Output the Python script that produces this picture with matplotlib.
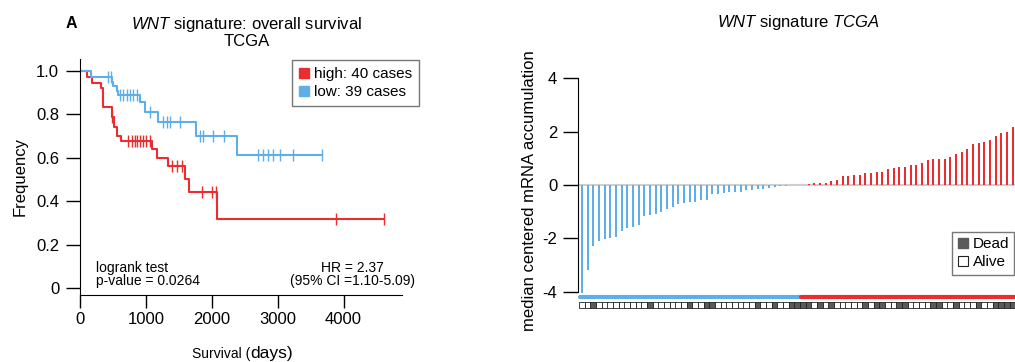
import numpy as np
import matplotlib
matplotlib.use('Agg')
import matplotlib.pyplot as plt
from matplotlib.lines import Line2D

plt.rcParams['font.family'] = 'Liberation Sans'
plt.rcParams['mathtext.fontset'] = 'custom'
plt.rcParams['mathtext.rm'] = 'Liberation Sans'
plt.rcParams['mathtext.it'] = 'Liberation Sans:italic'
plt.rcParams['axes.unicode_minus'] = False

RED = '#ec2d2f'
BLUE = '#5eaeea'

# Kaplan-Meier steps (days, survival)
high_t = [0, 101, 177, 319, 354, 480, 516, 556, 622, 1088, 1163, 1330, 1593, 1659, 2084]
high_s = [1.0, 0.974, 0.946, 0.921, 0.836, 0.786, 0.74, 0.70, 0.679, 0.64, 0.60, 0.564, 0.50, 0.442, 0.32]
high_end = 4620
high_cens = [480, 733, 784, 835, 870, 911, 951, 1002, 1062, 1391, 1467, 1543, 1846, 1998, 2064, 3884, 4620]

low_t = [0, 162, 480, 506, 556, 582, 910, 986, 1179, 1755, 2377]
low_s = [1.0, 0.97, 0.95, 0.93, 0.908, 0.888, 0.855, 0.809, 0.766, 0.702, 0.615]
low_end = 3667
low_cens = [430, 465, 607, 657, 708, 759, 809, 860, 1062, 1264, 1315, 1365, 1517,
            1820, 1871, 2023, 2185, 2706, 2782, 2858, 2934, 3035, 3237, 3667]

# waterfall values (sorted), low group then high group
low_vals = [-4.03, -3.19, -2.28, -2.08, -2.03, -1.98, -1.95, -1.73, -1.60, -1.58,
            -1.50, -1.15, -1.13, -1.08, -1.00, -0.90, -0.83, -0.70, -0.68, -0.65,
            -0.63, -0.58, -0.58, -0.33, -0.33, -0.30, -0.26, -0.26, -0.25, -0.18,
            -0.18, -0.15, -0.15, -0.13, -0.08, -0.05, -0.02, -0.01, -0.005]
high_vals = [0.01, 0.03, 0.09, 0.09, 0.07, 0.16, 0.19, 0.33, 0.35, 0.36,
             0.38, 0.45, 0.45, 0.48, 0.50, 0.58, 0.64, 0.66, 0.69, 0.74,
             0.76, 0.81, 0.94, 0.96, 0.99, 0.99, 1.04, 1.14, 1.24, 1.33,
             1.54, 1.56, 1.61, 1.68, 1.84, 1.96, 1.98, 2.16, 2.30, 2.45]
# 1 = dead, 0 = alive
status = [0,0,1,0,0,0,0,0,0,0, 0,0,1,0,0,0,0,0,0,1, 0,0,1,1,0,0,0,0,0,0,
          0,1,0,0,1,0,0,1,1,
          1,1,0,1,0,1,0,0,0,0, 0,1,0,1,1,0,0,1,1,0, 0,0,0,1,1,0,0,1,0,0,
          0,1,0,0,1,1,1,1,1,1]

f = plt.figure(figsize=(10.15, 3.62), dpi=100)

# ---------------- left: survival ----------------
ax = f.add_axes([80/1015, 67/362, 322/1015, 236/362])
for t, s, end, cens, c in [(high_t, high_s, high_end, high_cens, RED),
                           (low_t, low_s, low_end, low_cens, BLUE)]:
    tt = np.array(t + [end])
    ss = np.array(s + [s[-1]])
    ax.step(tt, ss, where='post', color=c, lw=1.5)
    cy = np.array(s)[np.searchsorted(t, cens, side='right') - 1]
    ax.plot(cens, cy, ls='none', marker='|', ms=9, mew=1, color=c)
ax.set_xlim(0, 4886)
ax.set_ylim(-0.032, 1.055)
ax.set_xticks([0, 1000, 2000, 3000, 4000])
ax.set_yticks([0, 0.2, 0.4, 0.6, 0.8, 1.0])
ax.set_yticklabels(['0', '0.2', '0.4', '0.6', '0.8', '1.0'])
ax.spines['top'].set_visible(False)
ax.spines['right'].set_visible(False)
ax.tick_params(axis='y', length=10, width=1, labelsize=12, pad=5)
ax.tick_params(axis='x', length=9, width=1, labelsize=12, pad=3)
ax.set_ylabel('Frequency', fontsize=12, labelpad=6)
ax.text(0.05, 0.145, 'logrank test\np-value = 0.0264', transform=ax.transAxes,
        fontsize=10, va='top', ha='left', linespacing=0.95)
ax.text(0.845, 0.145, 'HR = 2.37\n(95% CI =1.10-5.09)', transform=ax.transAxes,
        fontsize=10, va='top', ha='center', multialignment='center', linespacing=0.95)
hs = [Line2D([], [], ls='none', marker='s', ms=7, color=RED, label='high: 40 cases'),
      Line2D([], [], ls='none', marker='s', ms=7, color=BLUE, label='low: 39 cases')]
lg = ax.legend(handles=hs, loc='upper right', bbox_to_anchor=(419/1015, 1 - 60/362),
               bbox_transform=f.transFigure, fontsize=11, fancybox=False,
               handlelength=0.7, handletextpad=0.3, borderpad=0.45, labelspacing=0.3,
               borderaxespad=0)
lg.get_frame().set_edgecolor('#555555')
lg.get_frame().set_linewidth(1)
f.text(71/1015, 1 - 24/362, 'A', fontsize=11.5, fontweight='bold', ha='center', va='center')
f.text(247/1015, 1 - 25/362, r'$\it{WNT}$ signature: overall survival', fontsize=12,
       ha='center', va='center')
f.text(247/1015, 1 - 42/362, 'TCGA', fontsize=12, ha='center', va='center')
f.text(250/1015, 4/362, 'Survival (', fontsize=10, ha='right', va='baseline')
f.text(250/1015, 4/362, 'days)', fontsize=12.5, ha='left', va='baseline')

# ---------------- right: waterfall ----------------
bx = f.add_axes([578/1015, 50/362, 450/1015, 242/362])
vals = np.array(low_vals + high_vals)
idx = np.arange(len(vals))
nlow = len(low_vals)
cols = [BLUE] * nlow + [RED] * len(high_vals)
bx.axhline(0, color='#cfcfcf', lw=1.5, zorder=0)
bx.bar(idx, vals, width=0.38, color=cols, linewidth=0, zorder=2)
bx.plot([-0.3, nlow - 0.5], [-4.2, -4.2], color=BLUE, lw=3, solid_capstyle='round')
bx.plot([nlow - 0.3, len(vals)], [-4.2, -4.2], color=RED, lw=3, solid_capstyle='round')
st = np.array(status)
bx.scatter(idx, np.full(len(idx), -4.5), marker='s', s=19,
           c=np.where(st == 1, '#5a5a5a', 'white'), edgecolors='#222222', linewidths=0.6,
           zorder=3)
bx.set_xlim(-0.7, 78.7)
bx.set_ylim(-4.75, 4.3)
bx.set_yticks([-4, -2, 0, 2, 4])
bx.spines['left'].set_bounds(-4, 4)
for s in ['top', 'right', 'bottom']:
    bx.spines[s].set_visible(False)
bx.set_xticks([])
bx.tick_params(axis='y', length=11, width=1, labelsize=12, pad=4)
bx.set_ylabel('median centered mRNA accumulation', fontsize=12, labelpad=4)
f.text(798/1015, 1 - 22/362, r'$\it{WNT}$ signature $\it{TCGA}$', fontsize=12,
       ha='center', va='center')
hd = [Line2D([], [], ls='none', marker='s', ms=7, color='#5a5a5a', label='Dead'),
      Line2D([], [], ls='none', marker='s', ms=7, mfc='white', mec='#222222', mew=0.8,
             label='Alive')]
lg2 = bx.legend(handles=hd, loc='upper left', bbox_to_anchor=(952/1015, 1 - 232/362),
                bbox_transform=f.transFigure, fontsize=11, fancybox=False,
                handlelength=0.7, handletextpad=0.3, borderpad=0.35, labelspacing=0.25,
                borderaxespad=0)
lg2.get_frame().set_edgecolor('#555555')
lg2.get_frame().set_linewidth(1)

f.savefig('out.png', dpi=100)
